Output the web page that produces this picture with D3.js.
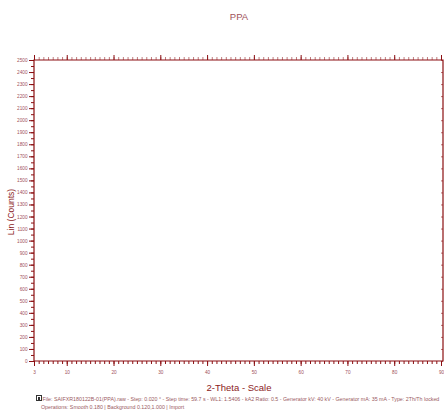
<!DOCTYPE html>
<html>
<head>
<meta charset="utf-8">
<script src="https://cdn.jsdelivr.net/npm/d3@7"></script>
<style>
  body { margin: 0; background: #fff; }
  text { font-family: "Liberation Sans", Arial, sans-serif; }
</style>
</head>
<body>
<div id="chart"></div>
<script>
// axis ranges and tick labels
var xDomain = [3, 90];
var yDomain = [0, 2500];
var xMajorTicks = [3, 10, 20, 30, 40, 50, 60, 70, 80, 90];
var xMinorTicks = d3.range(3, 91, 1);
var yMajorTicks = d3.range(0, 2501, 100);
var yMinorTicks = d3.range(0, 2501, 50);
var titleText = "PPA";
var xLabel = "2-Theta - Scale";
var yLabel = "Lin (Counts)";
var footerLines = [
  "File: SAIFXR180122B-01(PPA).raw - Step: 0.020 \u00b0 - Step time: 59.7 s - WL1: 1.5406 - kA2 Ratio: 0.5 - Generator kV: 40 kV - Generator mA: 35 mA - Type: 2Th/Th locked",
  "Operations: Smooth 0.180 | Background 0.120,1.000 | Import"
];

var width = 444, height = 412;
var axisColor = "#8b0f12", labelColor = "#a0505a";

var svg = d3.select("#chart").append("svg")
  .attr("width", width)
  .attr("height", height);

var x = d3.scaleLinear().domain(xDomain).range([34, 441]);
var y = d3.scaleLinear().domain(yDomain).range([361, 60]);

function styleAxis(g) {
  g.select(".domain").remove();
  g.selectAll("line").attr("stroke", axisColor).attr("stroke-width", 1);
  g.selectAll("text").attr("fill", labelColor).style("font-size", "4.7px");
}

// bottom axis
svg.append("g").attr("transform", "translate(0,361)")
  .call(d3.axisBottom(x).tickValues(xMinorTicks).tickSize(3).tickFormat(""))
  .call(styleAxis);
svg.append("g").attr("transform", "translate(0,361)")
  .call(d3.axisBottom(x).tickValues(xMajorTicks).tickSize(5).tickPadding(5).tickFormat(d3.format("d")))
  .call(styleAxis);

// top axis
svg.append("g").attr("transform", "translate(0,60)")
  .call(d3.axisTop(x).tickValues(xMinorTicks).tickSize(3).tickFormat(""))
  .call(styleAxis)
  .selectAll("line").attr("stroke-opacity", 0.55);
svg.append("g").attr("transform", "translate(0,60)")
  .call(d3.axisTop(x).tickValues(xMajorTicks).tickSize(5).tickFormat(""))
  .call(styleAxis);

// left axis
svg.append("g").attr("transform", "translate(34,0)")
  .call(d3.axisLeft(y).tickValues(yMinorTicks).tickSize(3).tickFormat(""))
  .call(styleAxis);
svg.append("g").attr("transform", "translate(34,0)")
  .call(d3.axisLeft(y).tickValues(yMajorTicks).tickSize(5).tickPadding(1.5).tickFormat(d3.format("d")))
  .call(styleAxis);

// right axis, ticks inward
svg.append("g").attr("transform", "translate(443,0)")
  .call(d3.axisRight(y).tickValues(yMajorTicks).tickSize(-2).tickFormat(""))
  .call(styleAxis)
  .selectAll("line").attr("stroke-opacity", 0.6);

// frame
svg.append("path")
  .attr("d", "M34,361V60H443V361H34")
  .attr("fill", "none")
  .attr("stroke", axisColor)
  .attr("stroke-width", 1.2);

// title and labels
svg.append("text")
  .attr("x", 239).attr("y", 20)
  .attr("text-anchor", "middle")
  .attr("fill", labelColor)
  .style("font-size", "9.5px")
  .text(titleText);

svg.append("text")
  .attr("x", 239).attr("y", 391)
  .attr("text-anchor", "middle")
  .attr("fill", "#8b1a22")
  .style("font-size", "9.5px")
  .text(xLabel);

svg.append("text")
  .attr("transform", "translate(14,212) rotate(-90)")
  .attr("text-anchor", "middle")
  .attr("fill", "#8b1a22")
  .style("font-size", "8.5px")
  .text(yLabel);

// footer
svg.append("rect")
  .attr("x", 36.5).attr("y", 395.5).attr("width", 5).attr("height", 5)
  .attr("fill", "#fff").attr("stroke", "#333");
svg.append("rect")
  .attr("x", 38).attr("y", 397).attr("width", 2).attr("height", 3)
  .attr("fill", "#333");

svg.selectAll(".footer")
  .data(footerLines)
  .enter().append("text")
  .attr("class", "footer")
  .attr("x", function(d, i) { return i === 0 ? 42.5 : 41; })
  .attr("y", function(d, i) { return 401 + i * 8; })
  .attr("fill", "#9a5a62")
  .style("font-size", "5.3px")
  .text(function(d) { return d; });
</script>
</body>
</html>
